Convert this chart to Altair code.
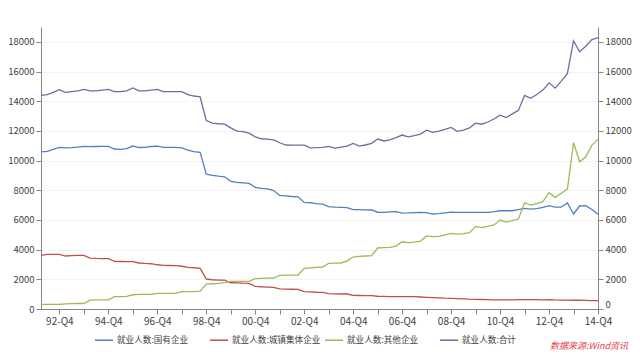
import altair as alt
import pandas as pd
import json

# ---- data -----------------------------------------------------------------
years = list(range(1992, 2015))
quarters = [f"{y % 100:02d}-Q{q}" for y in years for q in (1, 2, 3, 4)]
tick_quarters = [f"{y % 100:02d}-Q4" for y in years]
label_quarters = [f"{y % 100:02d}-Q4" for y in range(1992, 2015, 2)]

series_names = ["就业人数:国有企业", "就业人数:城镇集体企业", "就业人数:其他企业", "就业人数:合计"]
series_colors = ["#4F81BD", "#C0504D", "#9BBB59", "#8064A2"]

state_owned = [
    10590, 10620, 10750, 10890, 10850, 10870, 10900, 10960, 10940, 10950, 10960, 10960,
    10780, 10750, 10800, 10980, 10880, 10890, 10950, 10980, 10890, 10890, 10890, 10850,
    10700, 10600, 10550, 9090, 9000, 8950, 8910, 8600, 8530, 8500, 8460, 8200,
    8130, 8100, 7980, 7650, 7620, 7580, 7560, 7180, 7160, 7100, 7070, 6900,
    6870, 6850, 6830, 6700, 6690, 6680, 6670, 6520, 6510, 6540, 6560, 6460,
    6470, 6500, 6510, 6490, 6400, 6420, 6480, 6530, 6510, 6510, 6510, 6510,
    6510, 6510, 6560, 6620, 6620, 6620, 6700, 6780, 6730, 6760, 6850, 6960,
    6870, 6870, 7140, 6400, 6940, 6960, 6700, 6380,
]
urban_collective = [
    3610, 3680, 3680, 3680, 3570, 3590, 3610, 3610, 3430, 3410, 3400, 3390,
    3210, 3200, 3190, 3190, 3100, 3070, 3050, 2980, 2940, 2930, 2920, 2880,
    2800, 2780, 2740, 2020, 1970, 1950, 1950, 1770, 1760, 1740, 1730, 1530,
    1500, 1480, 1460, 1350, 1340, 1330, 1320, 1170, 1150, 1130, 1120, 1030,
    1020, 1010, 1010, 920, 910, 905, 900, 860, 850, 840, 830, 830,
    830, 830, 810, 790, 770, 750, 730, 720, 700, 680, 660, 650,
    640, 630, 620, 610, 610, 620, 630, 630, 630, 630, 620, 630,
    610, 600, 600, 590, 590, 580, 570, 560,
]
other = [
    310, 310, 310, 310, 350, 360, 370, 370, 600, 610, 615, 620,
    830, 840, 850, 960, 980, 990, 995, 1050, 1050, 1050, 1050, 1170,
    1170, 1170, 1200, 1680, 1700, 1720, 1770, 1860, 1860, 1860, 1860, 2040,
    2060, 2080, 2090, 2270, 2280, 2280, 2290, 2740, 2770, 2800, 2830, 3070,
    3090, 3100, 3230, 3500, 3540, 3570, 3590, 4110, 4130, 4150, 4240, 4530,
    4470, 4500, 4580, 4920, 4870, 4900, 5000, 5100, 5040, 5080, 5140, 5550,
    5480, 5560, 5660, 5990, 5860, 5950, 6060, 7160, 7000, 7100, 7230, 7840,
    7520, 7800, 8080, 11200, 9920, 10260, 11040, 11430,
]
total = [
    14400, 14450, 14600, 14780, 14600, 14650, 14700, 14800, 14700, 14700, 14750, 14800,
    14650, 14650, 14700, 14900, 14700, 14700, 14750, 14800, 14650, 14650, 14650, 14650,
    14450, 14350, 14300, 12700, 12520, 12480, 12450, 12200, 11980, 11950, 11850, 11600,
    11470, 11450, 11400, 11200, 11050, 11040, 11040, 11040, 10860, 10870, 10890, 10960,
    10840, 10900, 10970, 11150, 10980, 11050, 11160, 11450, 11320, 11400, 11550, 11720,
    11600, 11680, 11780, 12050, 11900, 11980, 12100, 12230, 11970, 12050, 12200, 12520,
    12450, 12600, 12800, 13060, 12900, 13150, 13380, 14390, 14200, 14450, 14750, 15240,
    14880, 15350, 15870, 18070, 17330, 17700, 18150, 18290,
]
y_ticks = list(range(0, 18001, 2000))
source_text = "数据来源:Wind资讯"

# ---- table ----------------------------------------------------------------
rows = []
for name, vals in zip(series_names, [state_owned, urban_collective, other, total]):
    for q, v in zip(quarters, vals):
        rows.append({"quarter": q, "series": name, "value": v})
df = pd.DataFrame(rows)

FONT = "Noto Sans CJK SC"
W, H = 557, 282
ydom = alt.Scale(domain=[0, 19000], nice=False, zero=True)

label_expr = f"indexof({json.dumps(label_quarters)}, datum.value) >= 0 ? datum.value : ''"

x_enc = alt.X(
    "quarter:O",
    sort=quarters,
    scale=alt.Scale(type="point", padding=0),
    axis=alt.Axis(
        values=tick_quarters,
        labelExpr=label_expr,
        labelAngle=0,
        title=None,
        tickSize=5,
        labelPadding=2,
        labelFontSize=10,
        domainColor="#868686",
        tickColor="#868686",
        labelColor="#404040",
        labelFont=FONT,
        grid=False,
    ),
)

lines = alt.Chart(df).mark_line(strokeWidth=1.3).encode(
    x=x_enc,
    y=alt.Y(
        "value:Q",
        scale=ydom,
        axis=alt.Axis(
            values=y_ticks,
            format="d",
            title=None,
            tickSize=5,
            labelPadding=2,
            labelFontSize=9.5,
            labelFont=FONT,
            labelColor="#404040",
            domainColor="#868686",
            tickColor="#868686",
            grid=True,
            gridColor="#f3f3f3",
        ),
    ),
    color=alt.Color(
        "series:N",
        sort=series_names,
        scale=alt.Scale(domain=series_names, range=series_colors),
        legend=alt.Legend(
            title=None,
            orient="none",
            legendX=53,
            legendY=303,
            direction="horizontal",
            columns=4,
            gridAlign="all",
            columnPadding=1,
            symbolType="stroke",
            symbolSize=324,
            symbolStrokeWidth=1.5,
            labelFont=FONT,
            labelFontSize=8.6,
            labelColor="#404040",
            labelLimit=300,
            labelOffset=3,
        ),
    ),
)

right_axis = alt.Chart(df).mark_line(opacity=0).encode(
    x=x_enc,
    y=alt.Y(
        "value:Q",
        scale=ydom,
        axis=alt.Axis(
            orient="right",
            values=y_ticks,
            format="d",
            title=None,
            tickSize=5,
            labelPadding=2,
            labelFontSize=9.5,
            labelFont=FONT,
            labelColor="#404040",
            domainColor="#868686",
            tickColor="#868686",
            labelFlush=True,
            grid=False,
        ),
    ),
    detail="series:N",
)

source = alt.Chart(pd.DataFrame({"t": [source_text]})).mark_text(
    align="right", baseline="middle", font=FONT, fontSize=9, fontStyle="italic", color="#E8404A"
).encode(text="t:N", x=alt.value(W + 30), y=alt.value(H + 37))

chart = (
    alt.layer(lines, right_axis, source)
    .resolve_scale(y="independent")
    .properties(
        width=W,
        height=H,
        autosize=alt.AutoSizeParams(type="none"),
        padding={"left": 33, "top": 19, "right": 34, "bottom": 42},
        background="white",
    )
    .configure_view(stroke="transparent")
)

chart.save("out.html", embed_options={"renderer": "svg", "actions": False})
